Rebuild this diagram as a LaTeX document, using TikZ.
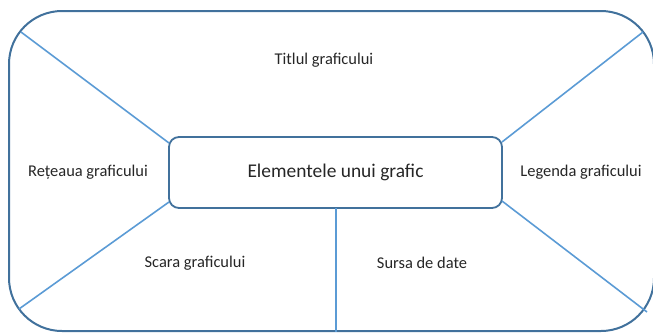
\documentclass[tikz,border=0pt]{standalone}
\usepackage{fontspec}
\setmainfont{Carlito}
\definecolor{boxblue}{HTML}{41719C}
\definecolor{lineblue}{HTML}{5B9BD5}
\begin{document}
\begin{tikzpicture}[x=1bp,y=-1bp,
  frame/.style={draw=boxblue,line width=2bp,rounded corners=53bp},
  conn/.style={draw=lineblue,line width=1.6bp},
  lbl/.style={font=\fontsize{16.5}{19}\selectfont,text=black!85}]
\useasboundingbox (0,0) rectangle (653,332);
\draw[frame] (9,11) rectangle (654,331);
\node[draw=boxblue,line width=1.8bp,rounded corners=10bp,minimum width=333bp,minimum height=71bp,
  font=\fontsize{19.5}{23}\selectfont,text=black!85] (center) at (335.5,172.5) {Elementele unui grafic};
\coordinate (tl) at (21,32);
\coordinate (tr) at (643,32);
\coordinate (bl) at (19,309);
\coordinate (br) at (647,312);
\coordinate (bm) at (336,332);
\coordinate (ctl) at (169,143);
\coordinate (ctr) at (502,142);
\coordinate (cbl) at (169,202);
\coordinate (cbr) at (502,201);
\coordinate (cbm) at (336,208);
\draw[conn] (ctl) -- (tl);
\draw[conn] (ctr) -- (tr);
\draw[conn] (cbl) -- (bl);
\draw[conn] (cbr) -- (br);
\draw[conn] (cbm) -- (bm);
\node[lbl] (titlu) at (324,60) {Titlul graficului};
\node[lbl] (retea) at (88,172) {Rețeaua graficului};
\node[lbl] (leg) at (581,172) {Legenda graficului};
\node[lbl] (scara) at (195,263) {Scara graficului};
\node[lbl] (sursa) at (422,263) {Sursa de date};
\end{tikzpicture}
\end{document}
